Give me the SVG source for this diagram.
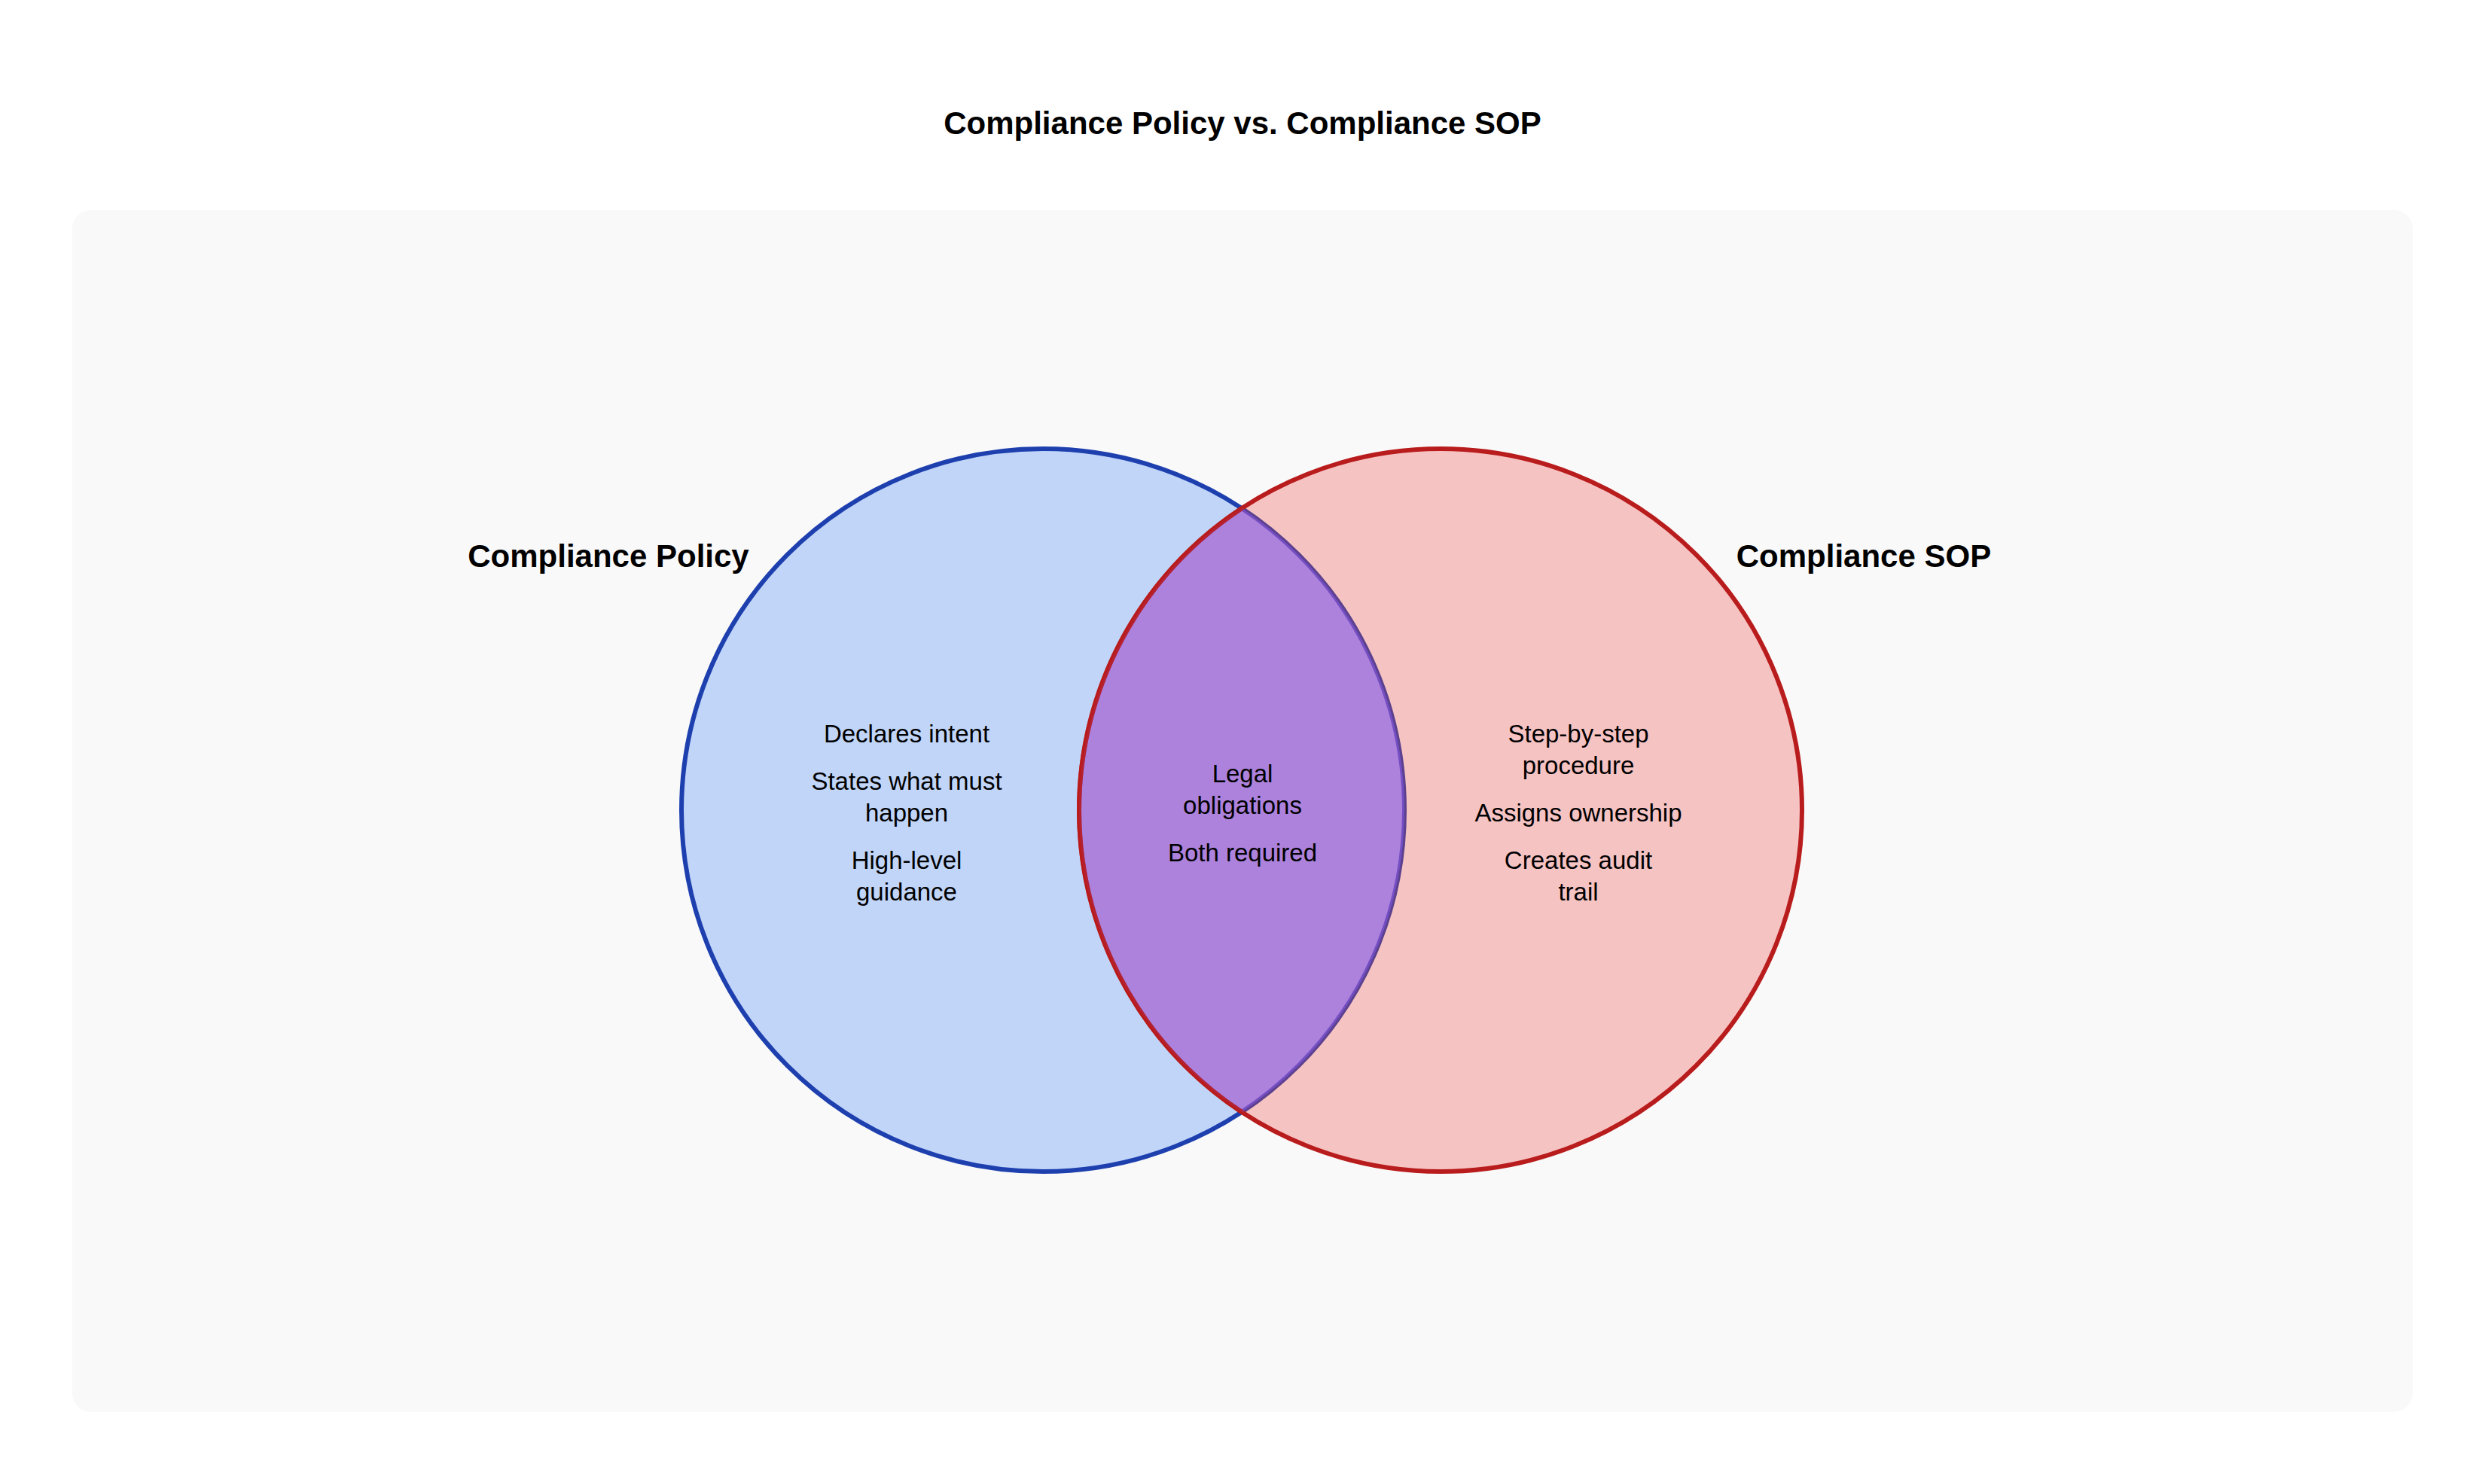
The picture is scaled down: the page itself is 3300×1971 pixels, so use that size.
<svg xmlns="http://www.w3.org/2000/svg" width="3300" height="1971" viewBox="0 0 3300 1971">
  <style>
    .title { font-family: "Liberation Sans", Arial, sans-serif; font-size: 42px; font-weight: bold; fill: #000; text-anchor: middle; }
    .setlabel { font-family: "Liberation Sans", Arial, sans-serif; font-size: 42px; font-weight: bold; fill: #000; text-anchor: middle; }
    .item { font-family: "Liberation Sans", Arial, sans-serif; font-size: 33px; fill: #000; text-anchor: middle; }
  </style>
  <rect x="0" y="0" width="3300" height="1971" fill="#ffffff"/>
  <rect x="96" y="279" width="3108" height="1596" rx="24" ry="24" fill="#f9f9f9"/>
  <text class="title" x="1650" y="178">Compliance Policy vs. Compliance SOP</text>

  <g id="set-policy">
    <circle cx="1385" cy="1076" r="480" fill="#3b82f6" fill-opacity="0.3" stroke="#1e40af" stroke-width="6"/>
  </g>
  <g id="set-sop">
    <circle cx="1913" cy="1076" r="480" fill="#ef4444" fill-opacity="0.3" stroke="#b91c1c" stroke-width="6"/>
  </g>
  <g id="overlap">
    <path d="M 1649 675.12 A 480 480 0 0 0 1649 1476.88 A 480 480 0 0 0 1649 675.12 Z" fill="#8b5cf6" fill-opacity="0.5"/>
    <path d="M 1649 675.12 A 480 480 0 0 0 1649 1476.88" fill="none" stroke="#b91c1c" stroke-width="6" stroke-opacity="0.8"/>
  </g>

  <g id="label-policy">
    <text class="setlabel" x="808" y="753">Compliance Policy</text>
  </g>
  <g id="label-sop">
    <text class="setlabel" x="2475" y="753">Compliance SOP</text>
  </g>

  <g id="items-policy">
    <text class="item" x="1204" y="986">Declares intent</text>
    <text class="item" x="1204" y="1049">States what must</text>
    <text class="item" x="1204" y="1091">happen</text>
    <text class="item" x="1204" y="1154">High-level</text>
    <text class="item" x="1204" y="1196">guidance</text>
  </g>
  <g id="items-overlap">
    <text class="item" x="1650" y="1039">Legal</text>
    <text class="item" x="1650" y="1081">obligations</text>
    <text class="item" x="1650" y="1144">Both required</text>
  </g>
  <g id="items-sop">
    <text class="item" x="2096" y="986">Step-by-step</text>
    <text class="item" x="2096" y="1028">procedure</text>
    <text class="item" x="2096" y="1091">Assigns ownership</text>
    <text class="item" x="2096" y="1154">Creates audit</text>
    <text class="item" x="2096" y="1196">trail</text>
  </g>
  <g id="connectors"></g>
</svg>
